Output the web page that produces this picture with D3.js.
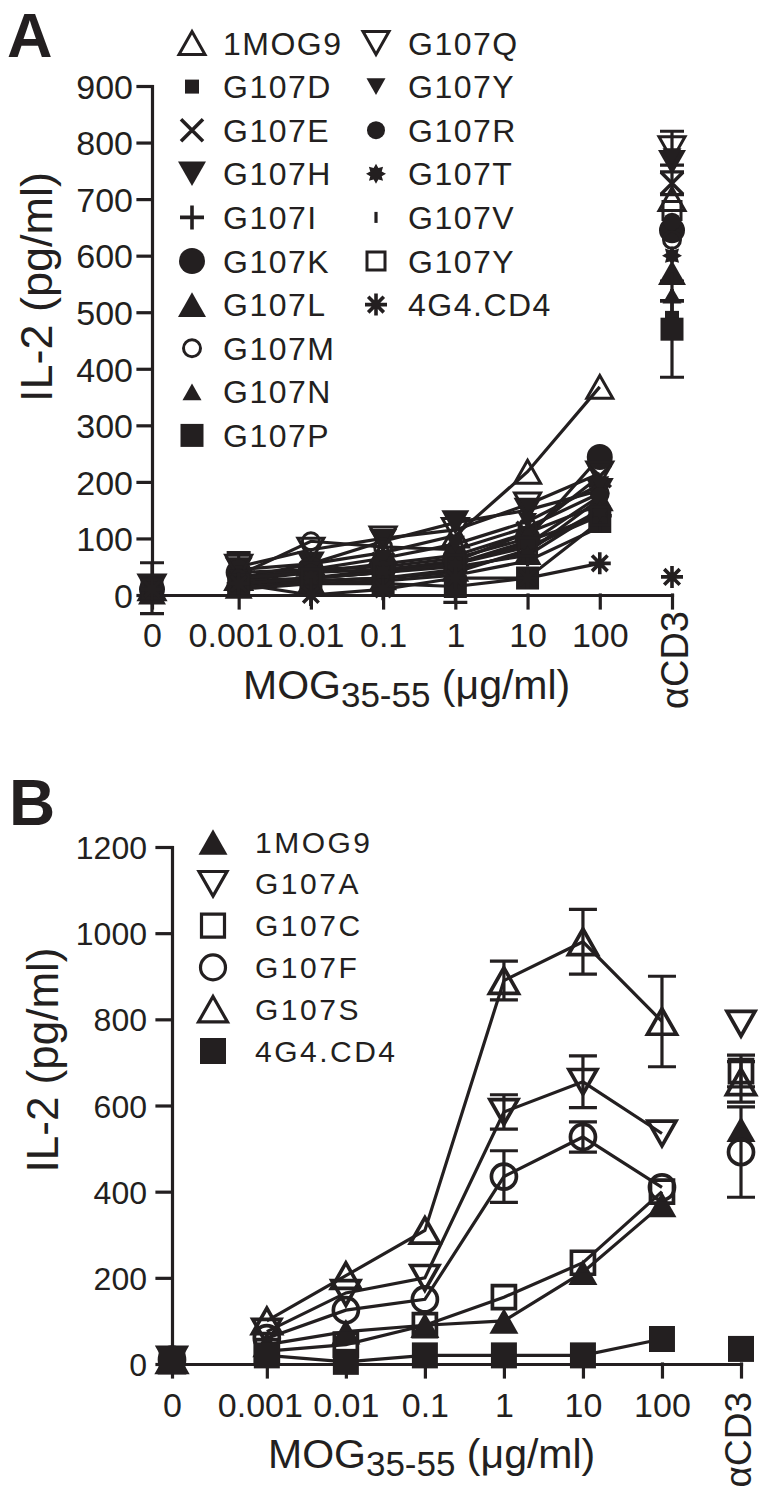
<!DOCTYPE html>
<html><head><meta charset="utf-8">
<script src="https://cdn.jsdelivr.net/npm/d3@7"></script>
<style>
body{margin:0;background:#fff}
svg text{font-family:"Liberation Sans",Arial,Helvetica,sans-serif;fill:#231f20}
</style></head><body>
<svg id="chart" width="762" height="1497"></svg>
<script>
// ---------- shared categories ----------
const doseLabels = ["0","0.001","0.01","0.1","1","10","100","αCD3"];
const doseValues = [0, 0.001, 0.01, 0.1, 1, 10, 100, null]; // null = αCD3 control

// ---------- Panel A data (IL-2 pg/ml), order = doseLabels ----------
const seriesNamesA = ["1MOG9","G107D","G107E","G107H","G107I","G107K","G107L","G107M","G107N","G107P",
                      "G107Q","G107Y","G107R","G107T","G107V","G107Y","4G4.CD4"];
const a_1MOG9  = [12, 30, 55, 75, 105, 218, 368, 700];
const a_G107D  = [5, 15, 25, 30, 40, 80, 150, 490];
const a_G107E  = [10, 25, 40, 55, 70, 110, 210, 728];
const a_G107H  = [15, 45, 55, 95, 128, 150, 185, 765];
const a_G107I  = [5, 20, 30, 40, 55, 95, 140, 520];
const a_G107K  = [10, 40, 45, 50, 65, 100, 244, 645];
const a_G107L  = [5, 15, 25, 30, 45, 75, 170, 570];
const a_G107M  = [10, 35, 95, 85, 80, 120, 180, 628];
const a_G107N  = [8, 25, 30, 45, 60, 110, 160, 530];
const a_G107P  = [10, 15, 20, 20, 15, 30, 130, 470];
const a_G107Q  = [15, 50, 80, 100, 115, 160, 215, 790];
const a_G107Y  = [12, 30, 45, 65, 90, 130, 195, 775];
const a_G107R  = [10, 30, 40, 45, 55, 90, 175, 660];
const a_G107T  = [5, 20, 30, 40, 50, 70, 150, 600];
const a_G107V  = [5, 10, 20, 25, 35, 60, 120, 560];
const a_G107Y2 = [10, 20, 30, 40, 55, 85, 140, 680];
const a_4G4    = [10, 20, 0, 10, 30, 30, 56, 32];
// SEM (only visible bars)
const e_1MOG9 = [45, 0, 0, 0, 0, 0, 0, 0];
const e_G107H = [0, 30, 0, 0, 0, 0, 0, 0];
const e_G107P = [0, 0, 0, 0, 28, 0, 0, 85];
const e_G107Q = [0, 0, 0, 0, 0, 0, 0, 30];
const e_G107E = [0, 0, 0, 0, 0, 0, 0, 20];
const valuesA = [a_1MOG9,a_G107D,a_G107E,a_G107H,a_G107I,a_G107K,a_G107L,a_G107M,a_G107N,a_G107P,
                 a_G107Q,a_G107Y,a_G107R,a_G107T,a_G107V,a_G107Y2,a_4G4];
const zeros = [0,0,0,0,0,0,0,0];
const errorsA = [e_1MOG9,zeros,e_G107E,e_G107H,zeros,zeros,zeros,zeros,zeros,e_G107P,
                 e_G107Q,zeros,zeros,zeros,zeros,zeros,zeros];
const yTicksA = [0,100,200,300,400,500,600,700,800,900];

// ---------- Panel B data ----------
const seriesNamesB = ["1MOG9","G107A","G107C","G107F","G107S","4G4.CD4"];
const b_1MOG9 = [5, 45, 75, 90, 100, 213, 370, 545];
const b_G107A = [10, 75, 165, 200, 585, 655, 535, 790];
const b_G107C = [10, 30, 45, 90, 155, 235, 400, 680];
const b_G107F = [10, 60, 125, 150, 435, 527, 410, 492];
const b_G107S = [10, 100, 205, 310, 890, 980, 795, 655];
const b_4G4   = [10, 20, 5, 20, 20, 20, 58, 35];
const eb_G107A = [0, 0, 0, 0, 40, 60, 0, 0];
const eb_G107C = [0, 0, 0, 0, 0, 0, 0, 37];
const eb_G107F = [0, 0, 0, 0, 60, 35, 0, 105];
const eb_G107S = [0, 0, 0, 0, 45, 75, 105, 47];
const valuesB = [b_1MOG9,b_G107A,b_G107C,b_G107F,b_G107S,b_4G4];
const errorsB = [zeros,eb_G107A,eb_G107C,eb_G107F,eb_G107S,zeros];
const yTicksB = [0,200,400,600,800,1000,1200];

// ---------- styles ----------
const INK = "#231f20";
const markA = [
  {shape:"triUp",fill:false,size:26},{shape:"square",fill:true,size:14},{shape:"cross",fill:false,size:22},
  {shape:"triDown",fill:true,size:28},{shape:"plus",fill:false,size:24},{shape:"circle",fill:true,size:26},
  {shape:"triUp",fill:true,size:28},{shape:"circle",fill:false,size:17},{shape:"triUp",fill:true,size:19},
  {shape:"square",fill:true,size:23},{shape:"triDown",fill:false,size:26},{shape:"triDown",fill:true,size:19},
  {shape:"circle",fill:true,size:18},{shape:"star",fill:true,size:20},{shape:"dash",fill:true,size:11},
  {shape:"square",fill:false,size:18},{shape:"asterisk",fill:false,size:22}
];
const markB = [
  {shape:"triUp",fill:true,size:29},{shape:"triDown",fill:false,size:28},{shape:"square",fill:false,size:23},
  {shape:"circle",fill:false,size:25},{shape:"triUp",fill:false,size:29},{shape:"square",fill:true,size:26}
];

function shapePath(shape, s) {
  const r = s / 2;
  switch (shape) {
    case "triUp":   { const h = s * 0.88; return `M0,${-h/2}L${r},${h/2}L${-r},${h/2}Z`; }
    case "triDown": { const h = s * 0.88; return `M0,${h/2}L${r},${-h/2}L${-r},${-h/2}Z`; }
    case "square":  return `M${-r},${-r}H${r}V${r}H${-r}Z`;
    case "circle":  return `M${r},0A${r},${r} 0 1,1 ${-r},0A${r},${r} 0 1,1 ${r},0Z`;
    case "cross":   return `M${-r},${-r}L${r},${r}M${r},${-r}L${-r},${r}`;
    case "plus":    return `M${-r},0H${r}M0,${-r}V${r}`;
    case "asterisk": {
      let p = "";
      for (let k = 0; k < 4; k++) { const a = k * Math.PI / 4; const dx = r*Math.cos(a), dy = r*Math.sin(a);
        p += `M${-dx},${-dy}L${dx},${dy}`; }
      return p;
    }
    case "star": {
      let p = "";
      for (let k = 0; k < 16; k++) { const a = k * Math.PI / 8 - Math.PI/2; const rr = k % 2 ? r*0.62 : r;
        p += (k ? "L" : "M") + (rr*Math.cos(a)).toFixed(2) + "," + (rr*Math.sin(a)).toFixed(2); }
      return p + "Z";
    }
    case "dash":    return `M-1.6,${-r}H1.6V${r}H-1.6Z`;
  }
}
function drawMark(g, m, x, y, sw) {
  const stroked = ["cross","plus","asterisk"].includes(m.shape);
  g.append("path").attr("d", shapePath(m.shape, m.size))
    .attr("transform", `translate(${x},${y})`)
    .attr("fill", (m.fill && !stroked) ? INK : "none")
    .attr("stroke", (m.fill && !stroked) ? "none" : INK)
    .attr("stroke-width", stroked ? sw + 0.6 : sw)
    .attr("stroke-linejoin", "miter");
}

const ZERO_AT = Math.pow(10, -4.2), CD3_AT = 1000;
function xv(i) { const d = doseValues[i]; return d === 0 ? ZERO_AT : (d === null ? CD3_AT : d); }

const svg = d3.select("#chart");

function panel(cfg) {
  const x = d3.scaleLog().domain([ZERO_AT, CD3_AT]).range(cfg.xRange);
  const y = d3.scaleLinear().domain(cfg.yDomain).range(cfg.yRange);
  const g = svg.append("g");

  // axes
  const ya = g.append("g").attr("transform", `translate(${cfg.xRange[0]},0)`)
    .call(d3.axisLeft(y).tickValues(cfg.yTicks).tickSize(cfg.yTickSize).tickPadding(cfg.yPad)
      .tickSizeOuter(0).tickFormat(d3.format("d")));
  const xa = g.append("g").attr("transform", `translate(0,${cfg.yRange[0]})`)
    .call(d3.axisBottom(x).tickValues(doseValues.map((d, i) => xv(i))).tickSize(cfg.xTickSize)
      .tickSizeOuter(0).tickFormat((d, i) => doseLabels[i]));
  [ya, xa].forEach(a => {
    a.attr("font-family", null).attr("font-size", null);
    a.selectAll("path,line").attr("stroke", INK).attr("stroke-width", 3.2).attr("stroke-linecap", "square");
  });
  ya.selectAll("text").style("font-size", cfg.yFont + "px").attr("dy", "0.36em");
  xa.selectAll("text").style("font-size", cfg.xFont + "px").attr("dy", 0).attr("y", cfg.xLabelY);
  // the "0.001" label sits a little left of its tick, as in the original
  xa.selectAll("text").filter((d, i) => i === 1).attr("dx", cfg.shift001);
  xa.selectAll("text").filter((d, i) => i === doseLabels.length - 1)
    .attr("transform", "rotate(-90)").attr("text-anchor", "end")
    .attr("x", cfg.cd3X).attr("y", cfg.cd3Y).style("font-size", cfg.cd3Font + "px");

  // lines (connected only 0.001..100)
  const line = d3.line().x(d => x(xv(d.i))).y(d => y(d.v));
  cfg.values.forEach(vals => {
    const pts = vals.map((v, i) => ({i, v})).filter(d => d.i >= 1 && d.i <= 6);
    g.append("path").attr("d", line(pts)).attr("fill", "none").attr("stroke", INK)
      .attr("stroke-width", cfg.lineW).attr("stroke-linejoin", "miter");
  });
  // error bars
  cfg.values.forEach((vals, s) => {
    vals.forEach((v, i) => {
      const e = cfg.errors[s][i]; if (!e) return;
      const cx = x(xv(i)), w = cfg.capW / 2;
      g.append("path").attr("d",
        `M${cx},${y(v - e)}V${y(v + e)}M${cx - w},${y(v + e)}H${cx + w}M${cx - w},${y(v - e)}H${cx + w}`)
        .attr("stroke", INK).attr("stroke-width", 3.2).attr("fill", "none");
    });
  });
  // markers
  cfg.values.forEach((vals, s) => {
    vals.forEach((v, i) => drawMark(g, cfg.marks[s], x(xv(i)), y(v), cfg.markSW));
  });

  // titles
  g.append("text").attr("x", cfg.letterX).attr("y", cfg.letterY).text(cfg.letter)
    .style("font-size", cfg.letterFont + "px").style("font-weight", "bold");
  g.append("text").attr("transform", `translate(${cfg.yTitleX},${cfg.yTitleY}) rotate(-90)`)
    .attr("text-anchor", "middle").style("font-size", cfg.yTitleFont + "px").text("IL-2 (pg/ml)");
  const xt = g.append("text").attr("x", cfg.xTitleX).attr("y", cfg.xTitleY).style("font-size", "41px");
  xt.append("tspan").text("MOG");
  xt.append("tspan").attr("dy", 8).style("font-size", "35px").text("35-55");
  xt.append("tspan").attr("dy", -8).text(" (μg/ml)");

  // legend
  cfg.legend.forEach(col => {
    col.items.forEach((si, r) => {
      const cy = col.y0 + r * col.step;
      drawMark(g, cfg.marks[si], col.sx, cy, cfg.legSW);
      g.append("text").attr("x", col.tx).attr("y", cy + cfg.legBase)
        .style("font-size", cfg.legFont + "px").style("letter-spacing", cfg.legLS + "px")
        .text(cfg.names[si]);
    });
  });
}

panel({
  xRange: [152, 672], yRange: [595, 86], yDomain: [0, 900], yTicks: yTicksA,
  yTickSize: 14, yPad: 5, xTickSize: 13, yFont: 34, xFont: 34, xLabelY: 52, shift001: -8,
  cd3X: -16, cd3Y: 15, cd3Font: 38,
  values: valuesA, errors: errorsA, marks: markA, names: seriesNamesA,
  lineW: 3.2, capW: 24, markSW: 3,
  letter: "A", letterX: 7, letterY: 57, letterFont: 63,
  yTitleX: 52, yTitleY: 287, yTitleFont: 45, xTitleX: 243, xTitleY: 699,
  legend: [
    {items: [0,1,2,3,4,5,6,7,8,9], sx: 192, tx: 223, y0: 43, step: 43.6},
    {items: [10,11,12,13,14,15,16], sx: 376, tx: 408, y0: 43, step: 43.6}
  ],
  legSW: 3, legFont: 32, legLS: 1.5, legBase: 11.5
});

panel({
  xRange: [172, 741], yRange: [1364, 847], yDomain: [0, 1200], yTicks: yTicksB,
  yTickSize: 15, yPad: 10, xTickSize: 13, yFont: 32, xFont: 34, xLabelY: 53, shift001: -7,
  cd3X: -28, cd3Y: 9, cd3Font: 37,
  values: valuesB, errors: errorsB, marks: markB, names: seriesNamesB,
  lineW: 3.2, capW: 28, markSW: 3.7,
  letter: "B", letterX: 9, letterY: 825, letterFont: 64,
  yTitleX: 58, yTitleY: 1060, yTitleFont: 44, xTitleX: 268, xTitleY: 1468,
  legend: [
    {items: [0,1,2,3,4,5], sx: 213, tx: 255, y0: 842, step: 41.8}
  ],
  legSW: 3.2, legFont: 30, legLS: 2.5, legBase: 10.5
});
</script>
</body></html>
